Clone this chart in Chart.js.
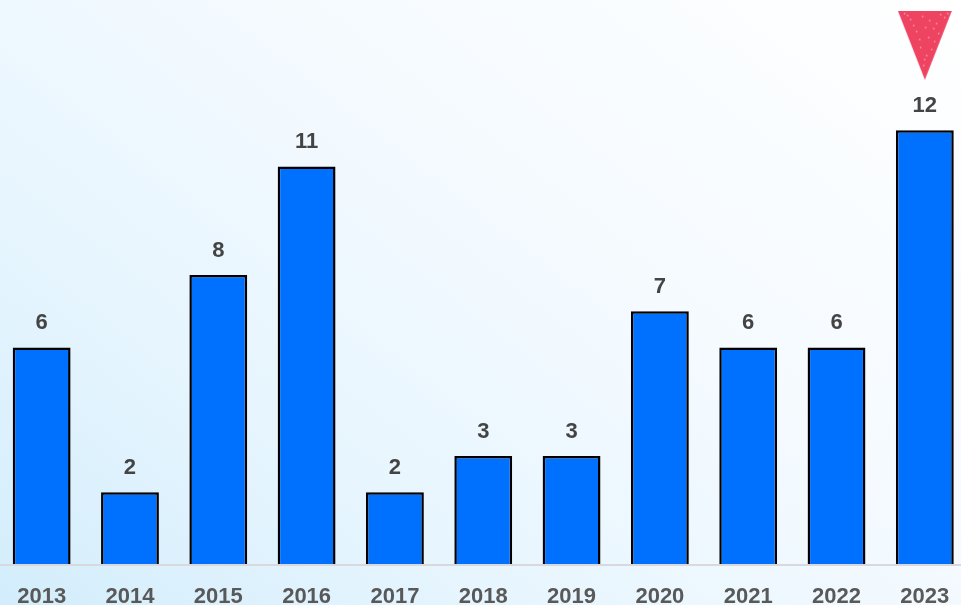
<!DOCTYPE html>
<html>
<head>
<meta charset="utf-8">
<title>Chart</title>
<script src="https://cdn.jsdelivr.net/npm/chart.js@4/dist/chart.umd.min.js"></script>
<style>
    html, body { margin: 0; padding: 0; width: 961px; height: 605px; overflow: hidden; }
    body { position: relative; background: linear-gradient(38deg, #d3edfc 0%, #e6f5fe 28%, #f4faff 58%, #ffffff 100%); }
    #chart { position: absolute; left: -3px; top: 0; }
</style>
</head>
<body>
<canvas id="chart" width="972" height="629"></canvas>
<script>
const years = ['2013', '2014', '2015', '2016', '2017', '2018', '2019', '2020', '2021', '2022', '2023'];
const counts = [6, 2, 8, 11, 2, 3, 3, 7, 6, 6, 12];
// 红色倒三角标记的位置（只在2023上方）
const markerValues = [null, null, null, null, null, null, null, null, null, null, 14.35];
const speckles = [[12, 8], [24, 5], [38, 12], [46, 6], [18, 20], [30, 26], [40, 22], [22, 36], [28, 44], [33, 38], [25, 54], [9, 4], [35, 17], [15, 14], [42, 3], [31, 9], [21, 28], [27, 16], [36, 30], [6, 2], [49, 2], [26, 48]];

function makeTriangle() {
    const c = document.createElement('canvas');
    c.width = 54;
    c.height = 69;
    const ctx = c.getContext('2d');
    ctx.fillStyle = '#ee4462';
    ctx.beginPath();
    ctx.moveTo(0, 0);
    ctx.lineTo(54, 0);
    ctx.lineTo(27, 69);
    ctx.closePath();
    ctx.fill();
    ctx.fillStyle = 'rgba(255, 255, 255, 0.45)';
    speckles.forEach(function(s) {
        ctx.fillRect(s[0], s[1], 1.5, 1.5);
    });
    return c;
}

// 在柱子上方写数值
const valueLabels = {
    id: 'valueLabels',
    afterDatasetsDraw(chart) {
        const ctx = chart.ctx;
        const meta = chart.getDatasetMeta(0);
        ctx.save();
        ctx.font = 'bold 22px "Liberation Sans"';
        ctx.fillStyle = '#444444';
        ctx.textAlign = 'center';
        ctx.textBaseline = 'middle';
        meta.data.forEach(function(bar, i) {
            ctx.fillText(counts[i], bar.x, bar.y - 24.5);
        });
        ctx.restore();
    }
};

new Chart(document.getElementById('chart'), {
    type: 'bar',
    data: {
        labels: years,
        datasets: [{
            data: counts,
            backgroundColor: '#0070ff',
            borderColor: '#000000',
            borderWidth: 2.5,
            borderSkipped: 'bottom',
            categoryPercentage: 1,
            barPercentage: 0.655
        }, {
            type: 'line',
            data: markerValues,
            showLine: false,
            pointStyle: makeTriangle(),
            pointRadius: 30
        }]
    },
    options: {
        responsive: false,
        animation: false,
        layout: { padding: { left: 0.5 }, autoPadding: false },
        plugins: {
            legend: { display: false },
            tooltip: { enabled: false }
        },
        scales: {
            x: {
                grid: { display: false, drawTicks: false },
                border: { display: true, color: '#d9d9dd', width: 2, z: 2 },
                ticks: {
                    color: '#595959',
                    padding: 19,
                    maxRotation: 0,
                    autoSkip: false,
                    font: { family: '"Liberation Sans"', size: 22, weight: 'bold' }
                }
            },
            y: {
                display: false,
                min: 0,
                max: 15.6
            }
        }
    },
    plugins: [valueLabels]
});
</script>
</body>
</html>
